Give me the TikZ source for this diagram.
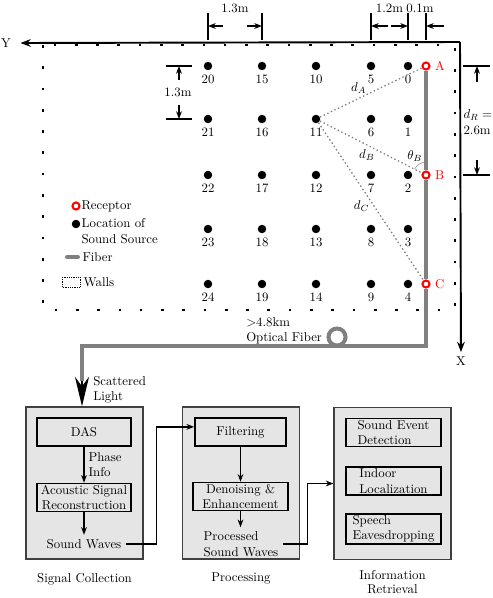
\documentclass[tikz,border=0pt]{standalone}
\usepackage{amsmath,amssymb}
\usepackage{xcolor}
\usepackage{tikz}
\usetikzlibrary{shapes,arrows.meta,positioning,calc}

\begin{document}
\begin{tikzpicture}[
    x=0.78pt, y=-0.78pt,
    src/.style={circle, fill=black, inner sep=0pt, minimum size=6.6pt},
    rcp/.style={circle, draw=red, fill=white, line width=1.6pt, inner sep=0pt, minimum size=5.5pt},
    fiber/.style={draw=gray, line width=3.1pt},
    wall/.style={line width=2.1pt, dash pattern=on 2.1pt off 14.5pt},
    ray/.style={draw=gray, line width=1pt, dash pattern=on 1.1pt off 2pt},
    axis/.style={-{Stealth[length=8pt,width=6pt]}, line width=1.5pt},
    dimtick/.style={line width=1.1pt},
    dimarrow/.style={-{Stealth[length=6pt,width=4.5pt]}, line width=1.1pt},
    stage/.style={rectangle, draw=black!75, fill=black!10, line width=1.1pt, minimum width=91pt, minimum height=118.6pt},
    inbox/.style={rectangle, draw=black, fill=black!10, line width=1.3pt, align=center, inner sep=1pt, minimum height=21.8pt},
    flow/.style={-{Stealth[length=6pt,width=4.5pt]}, line width=1.1pt}
]
    \useasboundingbox (0,0) rectangle (492,598);

    \draw [wall] (43,45) rectangle (455,310);

    \coordinate (orig) at (460,42);
    \node (ylab) at (6,43) {Y};
    \node (xlab) at (461,361) {X};
    \draw [axis] (orig) -- ([xshift=4pt]ylab.east);
    \draw [axis] (orig) -- (xlab);

    \foreach \xx [count=\c from 0] in {408,371,316,262,208}
        \foreach \yy [count=\r from 0] in {66,119,175,229,284} {
            \pgfmathtruncatemacro{\idx}{5*\c+\r}
            \node [src, label={[inner sep=0pt, label distance=3pt]below:\idx}] (s\idx) at (\xx,\yy) {};
        }

    \node [rcp, label={[red]right:A}] (A) at (426,66) {};
    \node [rcp, label={[red]right:B}] (B) at (426,175) {};
    \node [rcp, label={[red]right:C}] (C) at (426,284) {};

    \draw [ray] (s11) -- node [pos=0.38, above] {$d_A$} (A);
    \draw [ray] (s11) -- node [pos=0.46, below] {$d_B$} (B);
    \draw [ray] (s11) -- node [pos=0.53, left] {$d_C$} (C);
    \draw [gray, thin] ($(B)+(90:10pt)$) arc [start angle=90, end angle=153, radius=10pt];
    \node (thetab) at ($(B)+(121:17pt)$) {$\theta_B$};

    \coordinate (f1) at (426,346);
    \coordinate (f2) at (82,346);
    \coordinate (f3) at (82,381);
    \draw [fiber] (A.south) -- (B.north) (B.south) -- (C.north) (C.south) -- (f1) -- (f2) -- (f3);
    \node [circle, draw=gray, line width=3.1pt, minimum size=13.3pt, inner sep=0pt] (spool) at (337,337) {};
    \node [anchor=west, align=left, inner sep=0pt] (fibtxt) at (246,331) {$>$4.8km\\Optical Fiber};

    \foreach \n in {s20,s15,s5,s0,A}
        \draw [dimtick] (\n) ++(0,-53) -- ++(0,27);
    \draw [dimarrow] ($(s20)+(15,-40)$) -- ($(s20)+(0,-40)$);
    \draw [dimarrow] ($(s15)+(-15,-40)$) -- ($(s15)+(0,-40)$);
    \draw [dimarrow] ($(s5)+(17,-40)$) -- ($(s5)+(0,-40)$);
    \draw [dimarrow] ($(s0)+(-17,-40)$) -- ($(s0)+(0,-40)$);
    \draw [dimarrow] ($(A)+(18,-40)$) -- ($(A)+(0,-40)$);
    \node (dim1) at ($(s20)!0.5!(s15)+(0,-58)$) {1.3m};
    \node (dim2) at ($(s5)!0.5!(s0)+(0,-58)$) {1.2m};
    \node (dim3) at ($(s0)!0.5!(A)+(3,-58)$) {0.1m};

    \draw [dimtick] ($(s20)+(-42,0)$) -- ($(s20)+(-16,0)$);
    \draw [dimtick] ($(s21)+(-42,0)$) -- ($(s21)+(-16,0)$);
    \draw [dimarrow] ($(s20)+(-29,14)$) -- ($(s20)+(-29,0)$);
    \draw [dimarrow] ($(s21)+(-29,-14)$) -- ($(s21)+(-29,0)$);
    \node (dim4) at ($(s20)!0.5!(s21)+(-30,0)$) {1.3m};

    \draw [dimtick] ($(A)+(37,0)$) -- ($(A)+(64,0)$);
    \draw [dimtick] ($(B)+(37,0)$) -- ($(B)+(64,0)$);
    \draw [dimarrow] ($(A)+(51,16)$) -- ($(A)+(51,0)$);
    \draw [dimarrow] ($(B)+(51,-15)$) -- ($(B)+(51,0)$);
    \node [anchor=west, align=left, inner sep=1pt] (dimr) at (462,122) {$d_R =$\\2.6m};

    \node [rcp] (lrcp) at (76,206) {};
    \node [anchor=west, inner sep=1pt] (lrcptxt) at (80,206) {Receptor};
    \node [src] (lsrc) at (76,224) {};
    \node [anchor=west, align=left, inner sep=1pt] (lsrctxt) at (80,231) {Location of\\Sound Source};
    \draw [fiber, line cap=round] (67,257) -- (78,257);
    \node [anchor=west, inner sep=1pt] (lfibtxt) at (81,257) {Fiber};
    \draw [densely dotted, thin] (62,277) rectangle (80,287);
    \node [anchor=west, inner sep=1pt] (lwalltxt) at (82,282) {Walls};

    \node [stage] (collect) at (84.5,483) {};
    \node [stage] (process) at (241,483) {};
    \node [stage] (retrieve) at (392.5,483.5) {};
    \node [below=7pt of collect] (lcollect) {Signal Collection};
    \node [below=7pt of process] (lprocess) {Processing};
    \node [below=7pt of retrieve, align=center, inner sep=1pt] (lretrieve) {Information\\[-1.5pt]Retrieval};

    \draw [-{Stealth[length=23pt,width=11pt]}, line width=0.8pt] (f3) -- (f3 |- collect.north);
    \node [anchor=west, align=left, inner sep=0pt] (scat) at (93,390) {Scattered\\Light};

    \node [inbox, minimum width=73pt] (das) at (84,432) {DAS};
    \node [inbox, minimum width=73pt] (recon) at (84,497.5) {Acoustic Signal\\Reconstruction};
    \node (wav1) at (84,544) {Sound Waves};
    \node [inbox, minimum width=71pt] (filt) at (240.5,432) {Filtering};
    \node [inbox, minimum width=74pt] (den) at (240.5,496.5) {Denoising \&\\Enhancement};
    \node [align=left] (wav2) at (241,544) {Processed\\Sound Waves};
    \node [inbox, minimum width=74pt, align=left] (sed) at (393.5,432.5) {Sound Event\\Detection};
    \node [inbox, minimum width=74pt, align=left] (loc) at (393.5,481) {Indoor\\Localization};
    \node [inbox, minimum width=74pt, align=left] (spe) at (393.5,529) {Speech\\Eavesdropping};

    \draw [flow] (das) -- node [right, align=left, inner sep=3pt] {Phase\\Info} (recon);
    \draw [flow] (recon) -- (wav1);
    \draw [flow] (wav1.east) -- ++(31,0) |- ([yshift=4pt]filt.west);
    \draw [flow] (filt) -- (den);
    \draw [flow] (den) -- (den |- wav2.north);
    \draw [flow] (wav2.east) -- ++(25,0) |- (retrieve.west);
\end{tikzpicture}
\end{document}
